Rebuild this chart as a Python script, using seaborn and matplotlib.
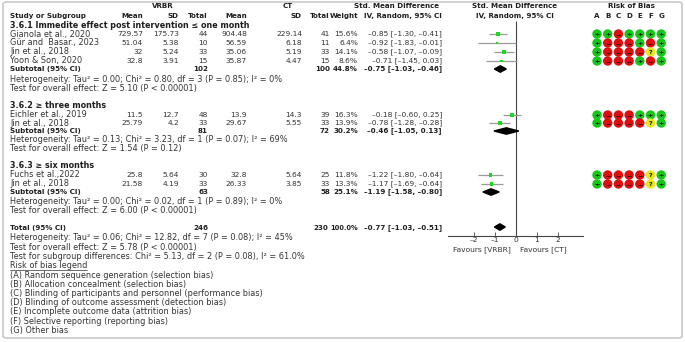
import seaborn as sns
import matplotlib.pyplot as plt
import pandas as pd
from matplotlib.patches import FancyBboxPatch

sns.set_theme(style="white")
plt.rcParams['font.family'] = ['DejaVu Sans']

# ---- data ----
studies = ["Gianola et al., 2020", "Gür and  Basar., 2023", "Jin et al., 2018", "Yoon & Son, 2020",
           "Eichler et al., 2019", "Jin et al., 2018",
           "Fuchs et al.,2022", "Jin et al., 2018"]
group = [0, 0, 0, 0, 1, 1, 2, 2]
vr_mean = [729.57, 51.04, 32, 32.8, 11.5, 25.79, 25.8, 21.58]
vr_sd = [175.73, 5.38, 5.24, 3.91, 12.7, 4.2, 5.64, 4.19]
vr_n = [44, 10, 33, 15, 48, 33, 30, 33]
ct_mean = [904.48, 56.59, 35.06, 35.87, 13.9, 29.67, 32.8, 26.33]
ct_sd = [229.14, 6.18, 5.19, 4.47, 14.3, 5.55, 5.64, 3.85]
ct_n = [41, 11, 33, 15, 39, 33, 25, 33]
weight = [15.6, 6.4, 14.1, 8.6, 16.3, 13.9, 11.8, 13.3]
smd = [-0.85, -0.92, -0.58, -0.71, -0.18, -0.78, -1.22, -1.17]
lo = [-1.30, -1.83, -1.07, -1.45, -0.60, -1.28, -1.80, -1.69]
hi = [-0.41, -0.01, -0.09, 0.03, 0.25, -0.28, -0.64, -0.64]
bias = ["++-++++", "+---+-+", "+----?+", "+---+-+",
        "+---+++", "+----?+",
        "+----?+", "+----?+"]

sub_titles = ["3.6.1 Immedite effect post intervention \u2264 one month",
              "3.6.2 \u2265 three months", "3.6.3 \u2265 six months"]
sub_vr_n = [102, 81, 63]
sub_ct_n = [100, 72, 58]
sub_w = [44.8, 30.2, 25.1]
sub_smd = [-0.75, -0.46, -1.19]
sub_lo = [-1.03, -1.05, -1.58]
sub_hi = [-0.46, 0.13, -0.80]
sub_het = ["Heterogeneity: Tau\u00b2 = 0.00; Chi\u00b2 = 0.80, df = 3 (P = 0.85); I\u00b2 = 0%",
           "Heterogeneity: Tau\u00b2 = 0.13; Chi\u00b2 = 3.23, df = 1 (P = 0.07); I\u00b2 = 69%",
           "Heterogeneity: Tau\u00b2 = 0.00; Chi\u00b2 = 0.02, df = 1 (P = 0.89); I\u00b2 = 0%"]
sub_test = ["Test for overall effect: Z = 5.10 (P < 0.00001)",
            "Test for overall effect: Z = 1.54 (P = 0.12)",
            "Test for overall effect: Z = 6.00 (P < 0.00001)"]

tot_vr_n, tot_ct_n = 246, 230
tot_smd, tot_lo, tot_hi = -0.77, -1.03, -0.51
tot_lines = ["Heterogeneity: Tau\u00b2 = 0.06; Chi\u00b2 = 12.82, df = 7 (P = 0.08); I\u00b2 = 45%",
             "Test for overall effect: Z = 5.78 (P < 0.00001)",
             "Test for subgroup differences: Chi\u00b2 = 5.13, df = 2 (P = 0.08), I\u00b2 = 61.0%"]
legend_lines = ["(A) Random sequence generation (selection bias)",
                "(B) Allocation concealment (selection bias)",
                "(C) Blinding of participants and personnel (performance bias)",
                "(D) Blinding of outcome assessment (detection bias)",
                "(E) Incomplete outcome data (attrition bias)",
                "(F) Selective reporting (reporting bias)",
                "(G) Other bias"]
bias_letters = list("ABCDEFG")

# ---- row layout (pixel rows) ----
study_y = [34, 43, 52, 61, 115, 123, 175, 184]
head_y = [25, 106, 166]
subtot_y = [69, 131, 192]
het_y = [79, 140, 201]
test_y = [88, 149, 210]
total_y = 228

DASH = "\u2013"

def fmt(v):
    return ("%.2f" % v).replace("-", DASH)

def ci(m, a, b):
    return "%s [%s, %s]" % (fmt(m), fmt(a), fmt(b))

def num(v):
    return "%g" % v

FS = 5.85    # running text
FN = 5.4     # numbers
FB = 5.1     # bold
FH = 5.8     # subgroup headings
TXT = "#333333"
DARK = "#1e1e1e"

fig = plt.figure(figsize=(6.85, 3.42), dpi=100)
ax = fig.add_axes([0, 0, 1, 1])
ax.set_xlim(0, 685)
ax.set_ylim(342, 0)
ax.axis("off")

fig.patches.append(FancyBboxPatch((3 / 685, 4 / 342), 679 / 685, 336 / 342,
                                  boxstyle="round,pad=0,rounding_size=0.006",
                                  transform=fig.transFigure, fill=False,
                                  edgecolor="#c8c8c8", linewidth=1.2))

def t(x, y, s, ha="left", bold=False, color=TXT, size=FS):
    return ax.text(x, y, s, ha=ha, va="center", fontsize=size,
                   fontweight="bold" if bold else "normal", color=color)

def b(x, y, s, ha="left", size=FB):
    return t(x, y, s, ha, True, DARK, size)

# headers
b(163, 6, "VRBR", "center")
b(288, 6, "CT", "center")
b(397, 6, "Std. Mean Difference", "center")
b(515, 6, "Std. Mean Difference", "center")
b(631, 6, "Risk of Bias", "center")
b(10, 16, "Study or Subgroup")
for x, s in [(143, "Mean"), (179, "SD"), (208, "Total"), (247, "Mean"),
             (302, "SD"), (330, "Total"), (358, "Weight"), (442, "IV, Random, 95% CI")]:
    b(x, 16, s, "right")
b(515, 16, "IV, Random, 95% CI", "center")
bias_x = [597 + i * 10.7 for i in range(7)]
for x, s in zip(bias_x, bias_letters):
    b(x, 16, s, "center")

# study rows
for i, name in enumerate(studies):
    y = study_y[i]
    t(10, y, name)
    t(143, y, num(vr_mean[i]), "right", size=FN)
    t(179, y, num(vr_sd[i]), "right", size=FN)
    t(208, y, str(vr_n[i]), "right", size=FN)
    t(247, y, num(ct_mean[i]), "right", size=FN)
    t(302, y, num(ct_sd[i]), "right", size=FN)
    t(330, y, str(ct_n[i]), "right", size=FN)
    t(358, y, "%.1f%%" % weight[i], "right", size=FN)
    t(442, y, ci(smd[i], lo[i], hi[i]), "right", size=FN)

# subgroups
for g in range(3):
    b(10, head_y[g], sub_titles[g], size=FH)
    y = subtot_y[g]
    b(10, y, "Subtotal (95% CI)")
    b(208, y, str(sub_vr_n[g]), "right")
    b(330, y, str(sub_ct_n[g]), "right")
    b(358, y, "%.1f%%" % sub_w[g], "right")
    b(442, y, ci(sub_smd[g], sub_lo[g], sub_hi[g]), "right")
    t(10, het_y[g], sub_het[g])
    t(10, test_y[g], sub_test[g])

# total
b(10, total_y, "Total (95% CI)")
b(208, total_y, str(tot_vr_n), "right")
b(328, total_y, str(tot_ct_n), "right")
b(358, total_y, "100.0%", "right", size=4.8)
b(442, total_y, ci(tot_smd, tot_lo, tot_hi), "right")
for k, s in enumerate(tot_lines):
    t(10, 238 + k * 9.2, s)
leg = t(10, 265.5, "Risk of bias legend")
for k, s in enumerate(legend_lines):
    t(10, 275 + k * 9.2, s)

fig.canvas.draw()
bb = leg.get_window_extent().transformed(ax.transData.inverted())
ax.plot([bb.x0, bb.x1], [269.8, 269.8], color=TXT, lw=0.5)

# risk of bias circles
bias_rows = []
for i, code in enumerate(bias):
    for j, c in enumerate(code):
        bias_rows.append({"x": bias_x[j], "y": study_y[i], "code": c})
bdf = pd.DataFrame(bias_rows)
bias_pal = {"+": "#17c617", "-": "#dd0f0f", "?": "#e6e61a"}
sns.scatterplot(data=bdf, x="x", y="y", hue="code", palette=bias_pal, s=46,
                edgecolor="none", legend=False, ax=ax, zorder=3)
sym = {"+": "+", "-": "\u2212", "?": "?"}
for _, r in bdf.iterrows():
    ax.text(r["x"], r["y"] + 0.3, sym[r["code"]], ha="center", va="center",
            fontsize=4.6, fontweight="bold", color="#111", zorder=4)

# ---- forest panel ----
fx = fig.add_axes([448 / 685, 0, 135 / 685, 1])
fx.set_xlim(-3.24, 3.19)
fx.set_ylim(342, 0)
fx.patch.set_alpha(0)
for sp in ["top", "left", "right"]:
    fx.spines[sp].set_visible(False)
fx.spines["bottom"].set_position(("data", 236))
fx.spines["bottom"].set_color("#444")
fx.spines["bottom"].set_linewidth(0.8)
fx.set_yticks([])
fx.set_xticks([-2, -1, 0, 1, 2])
fx.set_xticklabels([DASH + "2", DASH + "1", "0", "1", "2"])
fx.tick_params(axis="x", direction="in", length=3, width=0.6, color="#444",
               labelsize=FN, labelcolor=TXT, pad=1, bottom=True)

fx.vlines(0, 21, 236, color="#444", lw=0.8)
fx.hlines(study_y, lo, hi, color="#9a9a9a", lw=0.9)
fdf = pd.DataFrame({"smd": smd, "y": study_y, "w": weight})
sns.scatterplot(data=fdf, x="smd", y="y", size="w", sizes=(3, 9), marker="s",
                color="#1ed81e", edgecolor="none", legend=False, ax=fx, zorder=3)
fx.set_xlabel("")
fx.set_ylabel("")

def diamond(m, a, b_, y, h=3.2):
    fx.fill([a, m, b_, m], [y, y - h, y, y + h], color="black", zorder=3)

for g in range(3):
    diamond(sub_smd[g], sub_lo[g], sub_hi[g], subtot_y[g])
diamond(tot_smd, tot_lo, tot_hi, total_y - 1)

t(511, 250, "Favours [VRBR]", "right", size=FN)
t(520, 250, "Favours [CT]", "left", size=FN)

fig.savefig("out.png", dpi=100)
